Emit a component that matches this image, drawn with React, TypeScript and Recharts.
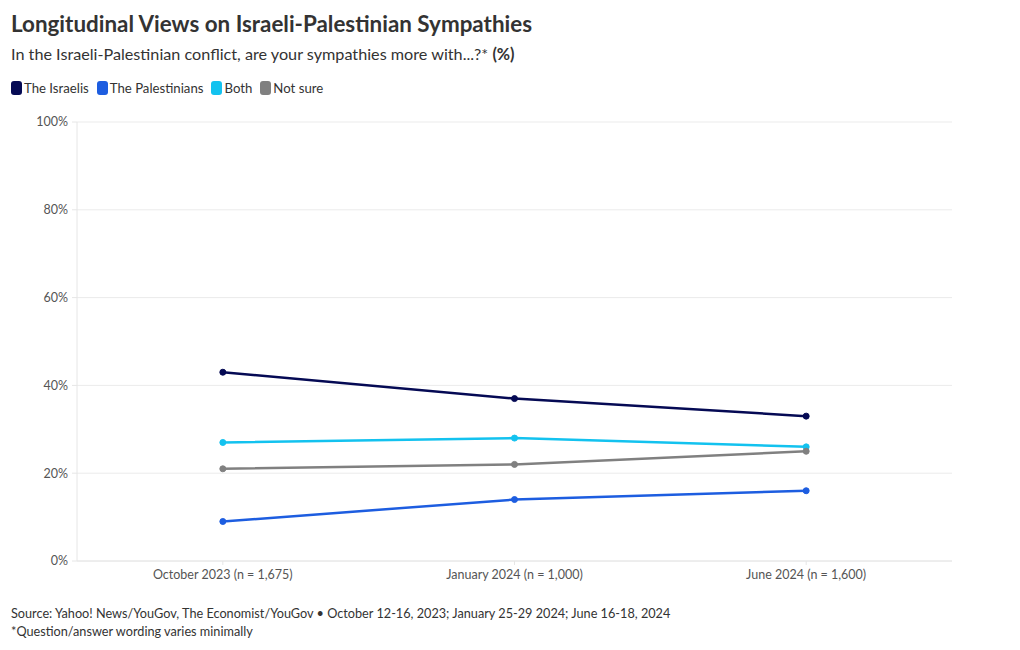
import { LineChart, Line, XAxis, YAxis, CartesianGrid } from 'recharts';

const waves = ['October 2023 (n = 1,675)', 'January 2024 (n = 1,000)', 'June 2024 (n = 1,600)'];
const israelis = [43, 37, 33];
const palestinians = [9, 14, 16];
const both = [27, 28, 26];
const notSure = [21, 22, 25];
const yTicks = [0, 20, 40, 60, 80, 100];

const series = [
  { key: 'israelis', name: 'The Israelis', color: '#050a54' },
  { key: 'palestinians', name: 'The Palestinians', color: '#1d5de0' },
  { key: 'both', name: 'Both', color: '#13c2ef' },
  { key: 'notSure', name: 'Not sure', color: '#808080' },
];

const chartData = waves.map((wave, i) => ({
  wave,
  israelis: israelis[i],
  palestinians: palestinians[i],
  both: both[i],
  notSure: notSure[i],
}));

const FONT = 'Lato, "Noto Sans", sans-serif';

function App() {
  return (
    <div style={{ position: 'absolute', left: 0, top: 0, width: 1020, height: 650, background: '#fff', fontFamily: FONT, color: '#333' }}>
      <div style={{ position: 'absolute', left: 11, top: 10, fontSize: 22.4, fontWeight: 700, color: '#333', whiteSpace: 'nowrap' }}>
        Longitudinal Views on Israeli-Palestinian Sympathies
      </div>
      <div style={{ position: 'absolute', left: 11, top: 44, fontSize: 16.2, color: '#333', whiteSpace: 'nowrap' }}>
        In the Israeli-Palestinian conflict, are your sympathies more with...?* <b>(%)</b>
      </div>
      <div style={{ position: 'absolute', left: 11, top: 80, display: 'flex', fontSize: 13.2, color: '#333', whiteSpace: 'nowrap' }}>
        {series.map(s => (
          <div key={s.key} style={{ display: 'flex', alignItems: 'center', marginRight: 8 }}>
            <span style={{ display: 'inline-block', width: 11, height: 14, borderRadius: 3, background: s.color, marginRight: 2 }} />
            <span>{s.name}</span>
          </div>
        ))}
      </div>
      <div style={{ position: 'absolute', left: 0, top: 100 }}>
        <LineChart width={1020} height={500} data={chartData} margin={{ top: 22, right: 68, bottom: 9, left: 0 }}>
          <CartesianGrid vertical={false} stroke="#ebebeb" />
          <XAxis
            dataKey="wave"
            scale="band"
            stroke="#e6e6e6"
            tickSize={4}
            tickMargin={5}
            height={30}
            tick={{ fill: '#555', fontSize: 12.5, fontFamily: FONT }}
          />
          <YAxis
            domain={[0, 100]}
            ticks={yTicks}
            tickFormatter={(v) => `${v}%`}
            width={77}
            stroke="#e6e6e6"
            tickSize={5}
            tickMargin={4}
            tick={{ fill: '#555', fontSize: 12.5, fontFamily: FONT }}
          />
          {series.map(s => (
            <Line
              key={s.key}
              dataKey={s.key}
              name={s.name}
              stroke={s.color}
              strokeWidth={2.5}
              dot={{ r: 3, fill: s.color, stroke: s.color, strokeWidth: 1 }}
              isAnimationActive={false}
            />
          ))}
        </LineChart>
      </div>
      <div style={{ position: 'absolute', left: 11, top: 604, fontSize: 12.7, color: '#333', lineHeight: '18px', whiteSpace: 'nowrap' }}>
        <div>Source: Yahoo! News/YouGov, The Economist/YouGov • October 12-16, 2023; January 25-29 2024; June 16-18, 2024</div>
        <div>*Question/answer wording varies minimally</div>
      </div>
    </div>
  );
}

export default App;
